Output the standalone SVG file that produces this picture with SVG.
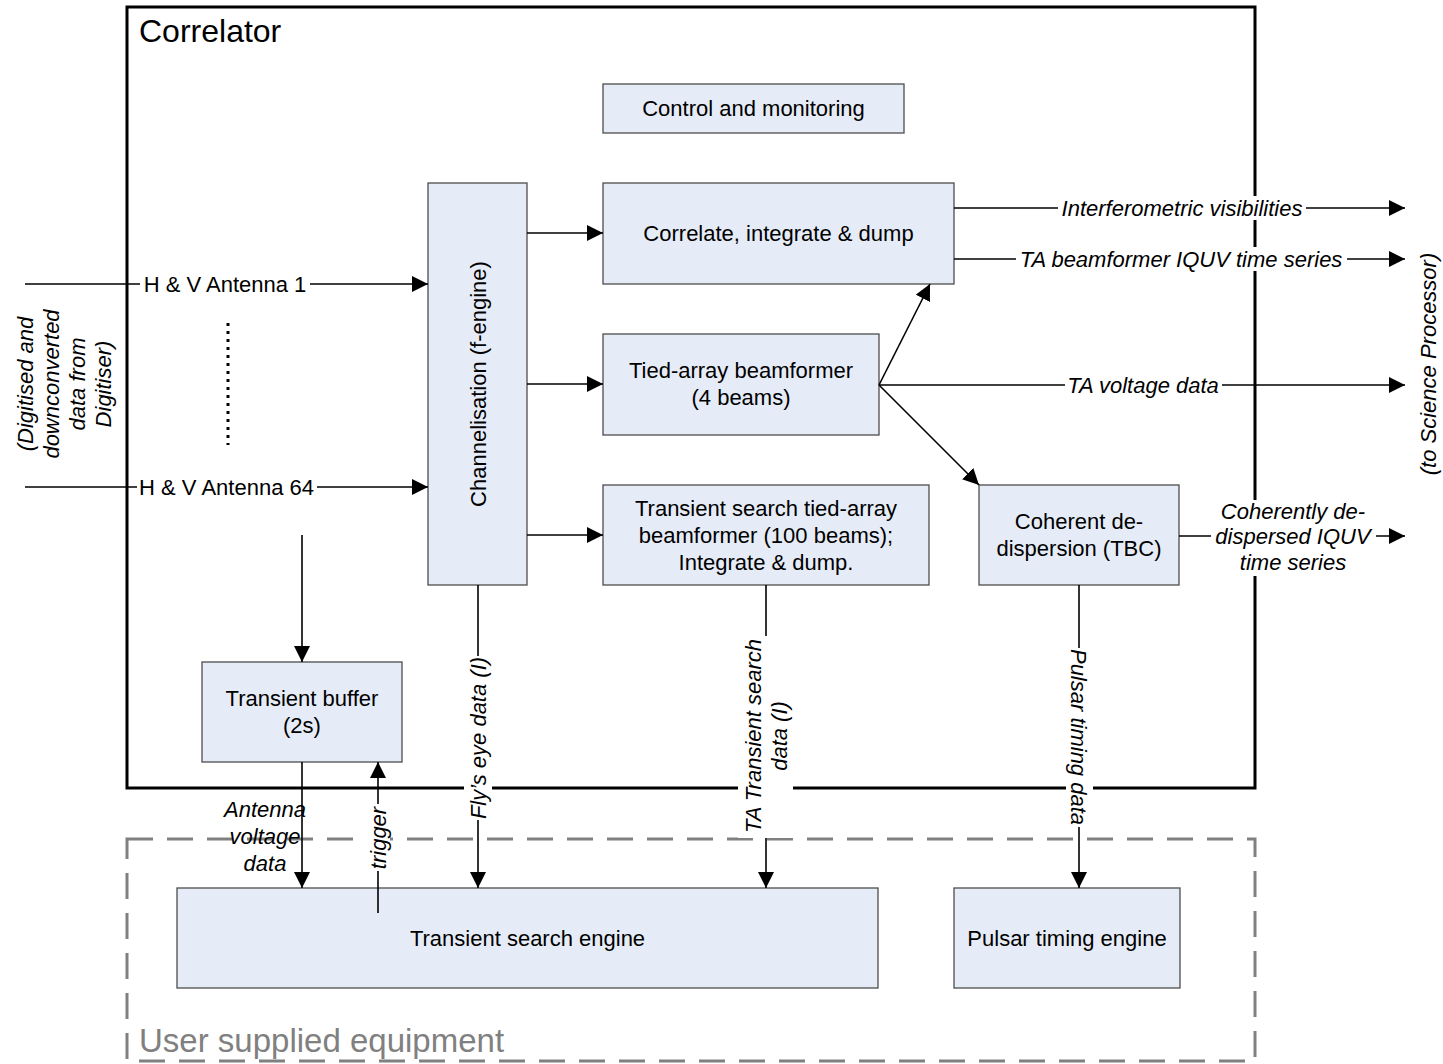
<svg xmlns="http://www.w3.org/2000/svg" width="1443" height="1064" viewBox="0 0 1443 1064">
  <defs>
    <marker id="ah" viewBox="0 0 16 16" refX="16" refY="8" markerWidth="16" markerHeight="16" markerUnits="userSpaceOnUse" orient="auto">
      <path d="M0,0 L16,8 L0,16 z" fill="#000"/>
    </marker>
    <style>
      text { font-family: "Liberation Sans", Arial, sans-serif; font-size: 22px; fill: #000; }
      .node rect { fill: #e6ecf7; stroke: #4d4d4d; stroke-width: 1.3; }
      .node text { text-anchor: middle; }
      .lbl text { font-style: italic; text-anchor: middle; }
      .bg { fill: #fff; }
      .wire { stroke: #000; stroke-width: 1.6; fill: none; }
      .arrow { marker-end: url(#ah); }
      .frame { fill: none; stroke: #000; stroke-width: 3; }
      .user { fill: none; stroke: #808080; stroke-width: 3; stroke-dasharray: 26 14; }
    </style>
  </defs>

  <rect width="1443" height="1064" fill="#fff"/>

  <!-- enclosing boundaries -->
  <g id="correlator">
    <rect class="frame" x="127" y="7" width="1128" height="781"/>
    <text x="139" y="42" style="font-size:32px">Correlator</text>
  </g>
  <g id="user-equipment">
    <rect class="user" x="127" y="839" width="1128" height="222"/>
    <text x="139" y="1052" style="font-size:33px;fill:#808080">User supplied equipment</text>
  </g>

  <!-- processing blocks -->
  <g id="control" class="node">
    <rect x="603" y="84" width="301" height="49"/>
    <text x="753.5" y="116">Control and monitoring</text>
  </g>
  <g id="channelisation" class="node">
    <rect x="428" y="183" width="99" height="402"/>
    <text transform="translate(477.5,384) rotate(-90)" x="0" y="8">Channelisation (f-engine)</text>
  </g>
  <g id="correlate" class="node">
    <rect x="603" y="183" width="351" height="101"/>
    <text x="778.5" y="241">Correlate, integrate &amp; dump</text>
  </g>
  <g id="tied-array" class="node">
    <rect x="603" y="334" width="276" height="101"/>
    <text x="741" y="378">Tied-array beamformer</text>
    <text x="741" y="405">(4 beams)</text>
  </g>
  <g id="transient-beamformer" class="node">
    <rect x="603" y="485" width="326" height="100"/>
    <text x="766" y="516">Transient search tied-array</text>
    <text x="766" y="543">beamformer (100 beams);</text>
    <text x="766" y="570">Integrate &amp; dump.</text>
  </g>
  <g id="dedispersion" class="node">
    <rect x="979" y="485" width="200" height="100"/>
    <text x="1079" y="529">Coherent de-</text>
    <text x="1079" y="556">dispersion (TBC)</text>
  </g>
  <g id="transient-buffer" class="node">
    <rect x="202" y="662" width="200" height="100"/>
    <text x="302" y="706">Transient buffer</text>
    <text x="302" y="733">(2s)</text>
  </g>
  <g id="transient-engine" class="node">
    <rect x="177" y="888" width="701" height="100"/>
    <text x="527.5" y="946">Transient search engine</text>
  </g>
  <g id="pulsar-engine" class="node">
    <rect x="954" y="888" width="226" height="100"/>
    <text x="1067" y="946">Pulsar timing engine</text>
  </g>

  <!-- data flows -->
  <g id="connectors">
    <path class="wire arrow" d="M25,284 H428"/>
    <path class="wire arrow" d="M25,487 H428"/>
    <path class="wire" d="M228,323 V445" style="stroke-width:3;stroke-dasharray:3 5"/>
    <path class="wire arrow" d="M527,233 H603"/>
    <path class="wire arrow" d="M527,384 H603"/>
    <path class="wire arrow" d="M527,535 H603"/>
    <path class="wire arrow" d="M954,208 H1405"/>
    <path class="wire arrow" d="M954,259 H1405"/>
    <path class="wire arrow" d="M879,385 H1405"/>
    <path class="wire arrow" d="M879,385 L930,284"/>
    <path class="wire arrow" d="M879,385 L979,485"/>
    <path class="wire arrow" d="M1179,536 H1405"/>
    <path class="wire arrow" d="M302,535 V662"/>
    <path class="wire arrow" d="M302,762 V888"/>
    <path class="wire arrow" d="M378,913 V762"/>
    <path class="wire arrow" d="M478,585 V888"/>
    <path class="wire arrow" d="M766,585 V888"/>
    <path class="wire arrow" d="M1079,585 V888"/>
  </g>

  <!-- flow labels -->
  <g id="labels">
    <g class="lbl">
      <rect class="bg" x="140" y="272" width="170" height="24"/>
      <text x="225" y="292" style="font-style:normal">H &amp; V Antenna 1</text>
    </g>
    <g class="lbl">
      <rect class="bg" x="137" y="475" width="180" height="24"/>
      <text x="226.5" y="495" style="font-style:normal">H &amp; V Antenna 64</text>
    </g>
    <g class="lbl">
      <rect class="bg" x="1058" y="196" width="248" height="24"/>
      <text x="1182" y="216">Interferometric visibilities</text>
    </g>
    <g class="lbl">
      <rect class="bg" x="1016" y="247" width="331" height="24"/>
      <text x="1181" y="267">TA beamformer IQUV time series</text>
    </g>
    <g class="lbl">
      <rect class="bg" x="1065" y="373" width="157" height="24"/>
      <text x="1143" y="393">TA voltage data</text>
    </g>
    <g class="lbl">
      <rect class="bg" x="1211" y="500" width="165" height="76"/>
      <text x="1293" y="519">Coherently de-</text>
      <text x="1293" y="544">dispersed IQUV</text>
      <text x="1293" y="570">time series</text>
    </g>
    <g class="lbl">
      <text x="265" y="817">Antenna</text>
      <text x="265" y="844">voltage</text>
      <text x="265" y="871">data</text>
    </g>
    <g class="lbl">
      <rect class="bg" x="366" y="804" width="24" height="67"/>
      <text transform="translate(378,838) rotate(-90)" x="0" y="8">trigger</text>
    </g>
    <g class="lbl">
      <rect class="bg" x="464" y="656" width="28" height="164"/>
      <text transform="translate(478,738) rotate(-90)" x="0" y="8">Fly’s eye data (I)</text>
    </g>
    <g class="lbl">
      <rect class="bg" x="738" y="636" width="55" height="202"/>
      <text transform="translate(766,736) rotate(-90)" x="0" y="-5">TA Transient search</text>
      <text transform="translate(766,736) rotate(-90)" x="0" y="21">data (I)</text>
    </g>
    <g class="lbl">
      <rect class="bg" x="1066" y="648" width="27" height="179"/>
      <text transform="translate(1079,737) rotate(90)" x="0" y="8">Pulsar timing data</text>
    </g>
    <g class="lbl">
      <text transform="translate(0,384) rotate(-90)" x="0" y="33">(Digitised and</text>
      <text transform="translate(0,384) rotate(-90)" x="0" y="59">downconverted</text>
      <text transform="translate(0,384) rotate(-90)" x="0" y="85">data from</text>
      <text transform="translate(0,384) rotate(-90)" x="0" y="111">Digitiser)</text>
    </g>
    <g class="lbl">
      <text transform="translate(1436,364) rotate(-90)" x="0" y="0">(to Science Processor)</text>
    </g>
  </g>
</svg>
